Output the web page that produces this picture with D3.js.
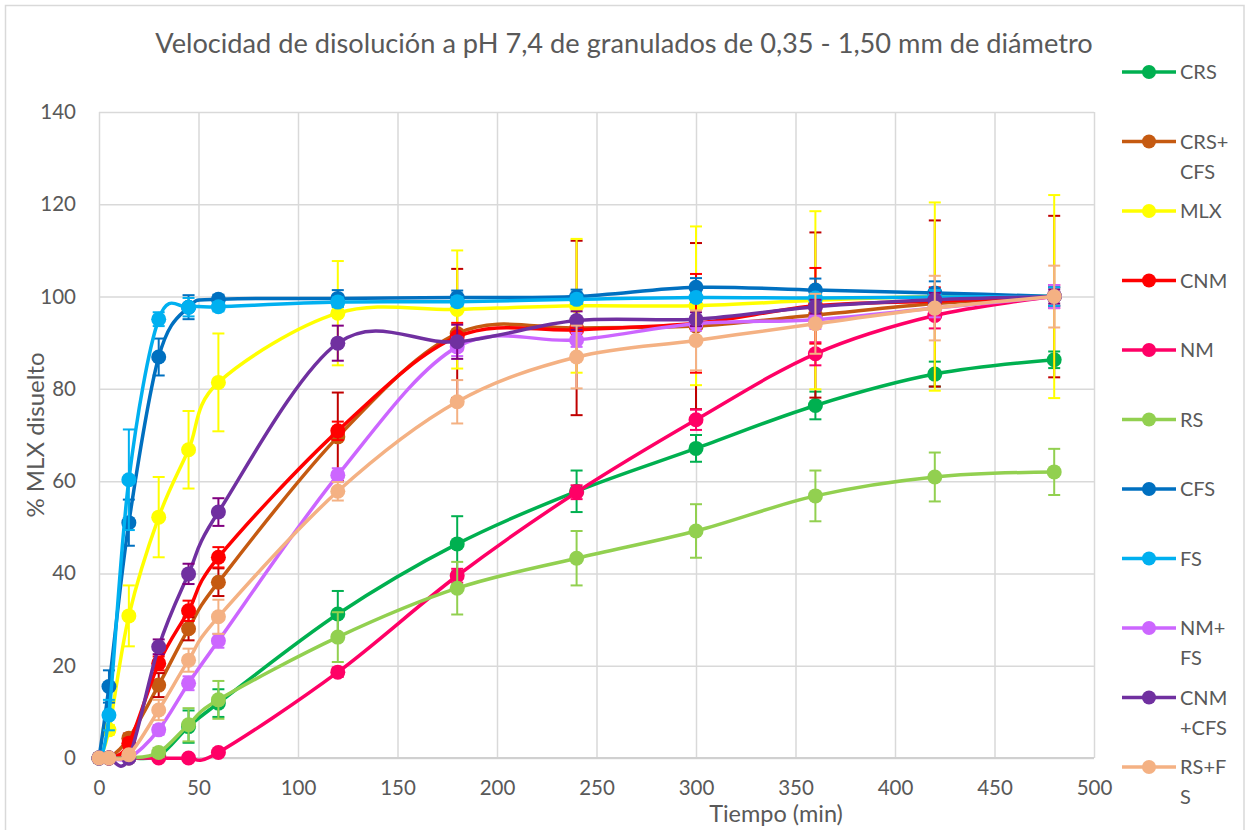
<!DOCTYPE html>
<html>
<head>
<meta charset="utf-8">
<script src="https://cdn.jsdelivr.net/npm/d3@7"></script>
<style>
  body { margin: 0; background: #fff; }
  svg text { font-family: Lato, "Open Sans", sans-serif; fill: #595959; }
</style>
</head>
<body>
<svg id="chart" width="1253" height="830"></svg>
<script>
const times = [0, 5, 15, 30, 45, 60, 120, 180, 240, 300, 360, 420, 480];

const crs = [0, 0, 0, 0.5, 6.8, 11.9, 31.2, 46.4, 57.8, 67.1, 76.4, 83.2, 86.3];
const crsErr = [0, 0, 0.5, 1, 3.5, 3, 5, 6, 4.5, 2.9, 3, 2.7, 1.8];
const crsCfs = [0, 0, 4.3, 15.8, 28, 38.1, 69.6, 92, 93.2, 93.6, 96, 98.5, 100];
const crsCfsErr = [0, 0, 1, 2.6, 2.5, 3, 9.6, 14, 18.9, 18, 17.9, 18, 17.5];
const mlx = [0, 6.1, 30.8, 52.2, 66.8, 81.4, 96.4, 97.2, 98, 98, 99.2, 100, 100];
const mlxErr = [0, 1, 6.6, 8.7, 8.4, 10.6, 11.3, 12.8, 14.5, 17.2, 19.3, 20.4, 22];
const cnm = [0, 0, 3.2, 20.5, 31.9, 43.5, 70.9, 91.3, 92.8, 94.2, 98, 99, 100];
const cnmErr = [0, 0, 1, 1.5, 2.2, 2.2, 2, 3, 2, 10.7, 8.2, 3, 2];
const nm = [0, 0, 0, 0, 0, 1.2, 18.6, 39.5, 57.6, 73.3, 87.6, 95.9, 100];
const nmErr = [0, 0, 0, 0, 0, 0.5, 1, 1.5, 1.5, 2.2, 2.5, 2.8, 2.5];
const rs = [0, 0, 0, 1.2, 7.2, 12.6, 26.2, 36.8, 43.3, 49.2, 56.8, 60.9, 62];
const rsErr = [0, 0, 0, 1, 3.6, 4.1, 5.4, 5.7, 5.9, 5.8, 5.5, 5.3, 5];
const cfs = [0, 15.5, 51, 86.9, 97.7, 99.4, 99.6, 99.8, 100, 102, 101.4, 100.8, 100];
const cfsErr = [0, 3.5, 5, 4, 2.6, 1, 1.8, 1.5, 1.5, 2, 2.5, 2.5, 2];
const fs = [0, 9.3, 60.3, 95.1, 97.7, 97.8, 98.8, 98.9, 99.4, 99.8, 99.7, 99.9, 100];
const fsErr = [0, 3.3, 10.9, 1.5, 2, 1, 1, 1, 1, 1, 1, 1.5, 2];
const nmFs = [0, 0, 0, 6.1, 16.2, 25.4, 61.3, 89.1, 90.6, 94.1, 95, 97.5, 100];
const nmFsErr = [0, 0, 0.3, 1, 1.5, 1.5, 1.5, 2, 1.5, 1.5, 2, 2, 2.5];
const cnmCfs = [0, 0, 0, 24.1, 39.9, 53.3, 89.9, 90.2, 94.8, 95.1, 97.8, 99.3, 100];
const cnmCfsErr = [0, 0, 0.5, 1.6, 2.2, 3, 3.8, 3.7, 2, 1.5, 1.5, 1.5, 1.5];
const rsFs = [0, 0, 0.7, 10.4, 21.2, 30.6, 57.8, 77.2, 86.9, 90.5, 94.1, 97.5, 100];
const rsFsErr = [0, 0, 0.5, 2.2, 2.5, 3.7, 2, 4.7, 6.8, 6.5, 6.5, 7, 6.7];

const seriesNames = ["CRS", "CRS+CFS", "MLX", "CNM", "NM", "RS", "CFS", "FS", "NM+FS", "CNM+CFS", "RS+FS"];
const legendLabels = [["CRS"], ["CRS+", "CFS"], ["MLX"], ["CNM"], ["NM"], ["RS"], ["CFS"], ["FS"], ["NM+", "FS"], ["CNM", "+CFS"], ["RS+F", "S"]];
const seriesValues = [crs, crsCfs, mlx, cnm, nm, rs, cfs, fs, nmFs, cnmCfs, rsFs];
const seriesErrors = [crsErr, crsCfsErr, mlxErr, cnmErr, nmErr, rsErr, cfsErr, fsErr, nmFsErr, cnmCfsErr, rsFsErr];
const colors = ["#00b050", "#c55a11", "#ffff00", "#ff0000", "#ff0066", "#92d050", "#0070c0", "#00b0f0", "#cc66ff", "#7030a0", "#f4b183"];
const errColors = ["#00b050", "#c00000", "#ffff00", "#ff0000", "#ff0066", "#92d050", "#0070c0", "#00b0f0", "#cc66ff", "#800080", "#f4b183"];

const xTicks = d3.range(0, 501, 50);
const yTicks = d3.range(0, 141, 20);

const svg = d3.select("#chart");

// outer chart border
svg.append("rect")
  .attr("x", 5.5).attr("y", 5.5)
  .attr("width", 1238.5).attr("height", 830)
  .attr("fill", "none").attr("stroke", "#d9d9d9").attr("stroke-width", 1.5);

const x = d3.scaleLinear().domain([0, 500]).range([99, 1094]);
const y = d3.scaleLinear().domain([0, 140]).range([758, 112]);

// grid + axes
const yAxis = svg.append("g")
  .attr("transform", "translate(99,0)")
  .call(d3.axisLeft(y).tickValues(yTicks).tickSize(-(1094 - 99)).tickPadding(23));
yAxis.select(".domain").remove();
yAxis.selectAll("line").attr("stroke", "#d9d9d9").attr("stroke-width", 1.5);
yAxis.selectAll("text").attr("font-size", 20.5).attr("fill", "#595959").style("font-family", "Lato");

const xAxis = svg.append("g")
  .attr("transform", "translate(0,758)")
  .call(d3.axisBottom(x).tickValues(xTicks).tickSize(-(758 - 112)).tickPadding(22));
xAxis.select(".domain").remove();
xAxis.selectAll("line").attr("stroke", "#d9d9d9").attr("stroke-width", 1.5);
xAxis.selectAll("text").attr("font-size", 20.5).attr("fill", "#595959").style("font-family", "Lato");

svg.append("line")
  .attr("x1", 99).attr("x2", 1094).attr("y1", 758).attr("y2", 758)
  .attr("stroke", "#d0d0d0").attr("stroke-width", 2);

// title and axis titles
svg.append("text")
  .attr("x", 624).attr("y", 53)
  .attr("text-anchor", "middle")
  .attr("font-size", 27.2)
  .text("Velocidad de disolución a pH 7,4 de granulados de 0,35 - 1,50 mm de diámetro");

svg.append("text")
  .attr("transform", "translate(44,435) rotate(-90)")
  .attr("text-anchor", "middle")
  .attr("font-size", 24)
  .text("% MLX disuelto");

svg.append("text")
  .attr("x", 776).attr("y", 822)
  .attr("text-anchor", "middle")
  .attr("font-size", 23.5)
  .text("Tiempo (min)");

const line = d3.line()
  .x((d) => x(d.t))
  .y((d) => y(d.v))
  .curve(d3.curveCardinal.tension(0));

const plot = svg.append("g");

seriesNames.forEach((name, i) => {
  const pts = times.map((t, j) => ({ t: t, v: seriesValues[i][j], e: seriesErrors[i][j] }));
  const g = plot.append("g").attr("class", "series");

  g.append("path")
    .datum(pts)
    .attr("d", line)
    .attr("fill", "none")
    .attr("stroke", colors[i])
    .attr("stroke-width", 3.5);

  const bars = g.selectAll(".err").data(pts.filter((d) => d.e > 0)).enter().append("g").attr("class", "err");
  bars.append("line")
    .attr("x1", (d) => x(d.t)).attr("x2", (d) => x(d.t))
    .attr("y1", (d) => y(d.v + d.e)).attr("y2", (d) => y(d.v - d.e))
    .attr("stroke", errColors[i]).attr("stroke-width", 2);
  [1, -1].forEach((s) => {
    bars.append("line")
      .attr("x1", (d) => x(d.t) - 6).attr("x2", (d) => x(d.t) + 6)
      .attr("y1", (d) => y(d.v + s * d.e)).attr("y2", (d) => y(d.v + s * d.e))
      .attr("stroke", errColors[i]).attr("stroke-width", 2);
  });

  g.selectAll("circle").data(pts).enter().append("circle")
    .attr("cx", (d) => x(d.t))
    .attr("cy", (d) => y(d.v))
    .attr("r", 7.5)
    .attr("fill", colors[i]);
});

// legend
const legend = svg.append("g");
const legendY = d3.scaleLinear().domain([0, 10]).range([72, 767]);
seriesNames.forEach((name, i) => {
  const ly = legendY(i);
  const lg = legend.append("g");
  lg.append("line")
    .attr("x1", 1122).attr("x2", 1176).attr("y1", ly).attr("y2", ly)
    .attr("stroke", colors[i]).attr("stroke-width", 3.5);
  lg.append("circle").attr("cx", 1149).attr("cy", ly).attr("r", 7).attr("fill", colors[i]);
  legendLabels[i].forEach((txt, k) => {
    lg.append("text")
      .attr("x", 1180).attr("y", ly + 7 + k * 30)
      .attr("font-size", 20)
      .text(txt);
  });
});
</script>
</body>
</html>
